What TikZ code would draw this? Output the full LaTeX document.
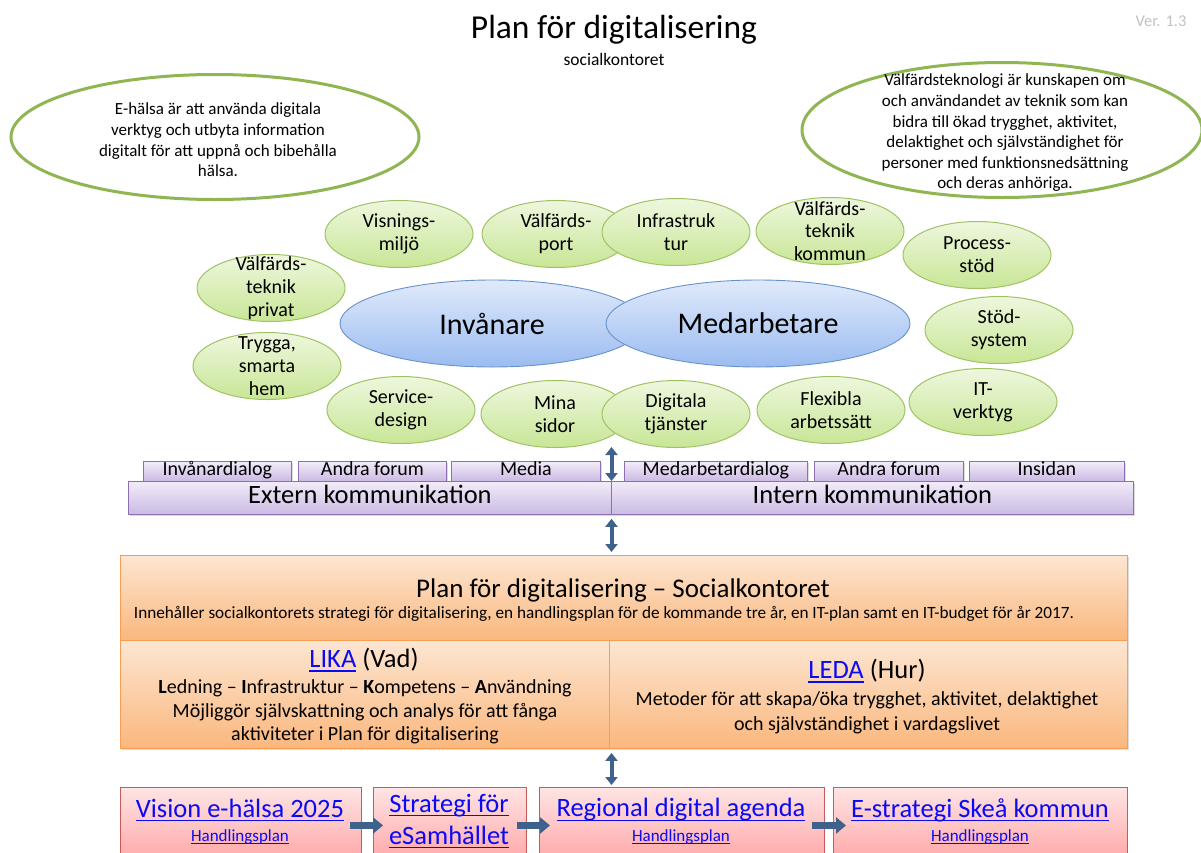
\documentclass[tikz,border=0pt]{standalone}
\usepackage{fontspec}
\setmainfont{Carlito}
\usetikzlibrary{shapes.geometric,arrows.meta,shadows}

\definecolor{ringline}{RGB}{143,182,82}
\definecolor{leafline}{RGB}{160,195,100}
\definecolor{leaftop}{RGB}{238,247,222}
\definecolor{leafbot}{RGB}{200,230,150}
\definecolor{skyline}{RGB}{105,145,205}
\definecolor{skytop}{RGB}{224,234,251}
\definecolor{skybot}{RGB}{155,188,240}
\definecolor{lilacline}{RGB}{140,112,175}
\definecolor{lilactop}{RGB}{242,236,249}
\definecolor{lilacbot}{RGB}{203,186,228}
\definecolor{peachline}{RGB}{247,158,85}
\definecolor{peachtop}{RGB}{253,230,210}
\definecolor{peachbot}{RGB}{250,183,125}
\definecolor{roseline}{RGB}{200,90,88}
\definecolor{rosetop}{RGB}{255,228,228}
\definecolor{rosebot}{RGB}{255,165,165}
\definecolor{steel}{RGB}{62,98,140}
\definecolor{linkblue}{RGB}{10,10,245}
\definecolor{vergray}{RGB}{195,195,195}

\newcommand\fs[2]{\fontsize{#1}{#2}\selectfont}
% underlined hyperlink-style text
\newcommand\weblink[2][1.2pt]{{\color{linkblue}\setbox0\hbox{#2}\rlap{\rule[-0.15em]{\wd0}{#1}}\box0}}
\newcommand\bubble[3]{%
  \node[bubble] (#1) at (#2) {};
  \node[bubbletext] (#1-t) at (#1) {#3};}

\begin{document}
\begin{tikzpicture}[x=1pt,y=-1pt,
  ring/.style={ellipse, draw=ringline, line width=3pt, fill=white, inner sep=0pt},
  ringtext/.style={align=center, inner sep=0pt, font=\fs{17}{20.6}},
  bubble/.style={ellipse, draw=leafline, line width=1pt, top color=leaftop,
    bottom color=leafbot, minimum width=148pt, minimum height=67pt, inner sep=0pt},
  bubbletext/.style={align=center, inner sep=0pt, font=\fs{20}{22.8}},
  core/.style={ellipse, draw=skyline, line width=0.9pt, top color=skytop,
    bottom color=skybot, minimum width=304pt, minimum height=87pt, inner sep=0pt},
  coretext/.style={inner sep=0pt, font=\fs{30}{34}},
  shade/.style={drop shadow={opacity=0.28, shadow xshift=1.5pt, shadow yshift=-2pt}},
  channel/.style={draw=lilacline, line width=0.8pt, top color=lilactop, bottom color=lilacbot,
    minimum height=19.5pt, inner sep=0pt, text height=12.5pt, text depth=3pt,
    font=\fs{20}{22}, anchor=north west, shade},
  bar/.style={draw=lilacline, line width=0.8pt, top color=lilactop, bottom color=lilacbot,
    minimum height=33pt, inner sep=0pt, text height=17pt, text depth=5pt,
    font=\fs{26.5}{30}, anchor=north west, shade},
  peach/.style={draw=peachline, line width=0.9pt, top color=peachtop, bottom color=peachbot,
    inner sep=0pt, anchor=north west, shade},
  rose/.style={draw=roseline, line width=0.9pt, top color=rosetop, bottom color=rosebot,
    minimum height=76pt, inner sep=0pt, anchor=north west},
  linkbig/.style={inner sep=0pt, font=\fs{26.5}{32}},
  linksmall/.style={inner sep=0pt, font=\fs{17}{19}},
  twoway/.style={draw=steel, line width=4pt,
    {Triangle[width=12pt,length=8pt]}-{Triangle[width=12pt,length=8pt]}},
  onward/.style={draw=steel, line width=7pt, -{Triangle[width=16pt,length=10pt]}}
]
\path[use as bounding box] (0,0) rectangle (1201,852);
\clip (0,0) rectangle (1201,852);
\fill[white] (0,0) rectangle (1201,852);

% heading
\node[font=\fs{33.5}{38}, inner sep=0pt] (title) at (614,30) {Plan för digitalisering};
\node[font=\fs{17.5}{19}, inner sep=0pt] (subtitle) at (614,59) {socialkontoret};
\node[font=\fs{16.5}{19}, text=vergray, inner sep=0pt] (version) at (1161,21) {Ver. 1.3};

% definitions in outlined ellipses
\node[ring, minimum width=408pt, minimum height=125pt] (ehealth) at (215,137) {};
\node[ringtext] (ehealth-t) at (218,140) {E-hälsa är att använda digitala\\verktyg och utbyta information\\digitalt för att uppnå och bibehålla\\hälsa.};
\node[ring, minimum width=400pt, minimum height=135pt] (welfare) at (1002,130) {};
\node[ringtext] (welfare-t) at (1005,133) {Välfärdsteknologi är kunskapen om\\och användandet av teknik som kan\\bidra till ökad trygghet, aktivitet,\\delaktighet och självständighet för\\personer med funktionsnedsättning\\och deras anhöriga.};

% the two target groups
\node[core] (citizen) at (492,323.5) {};
\node[coretext] (citizen-t) at (citizen) {Invånare};
\node[core] (staff) at (758,323.5) {};
\node[coretext] (staff-t) at (staff) {Medarbetare};

% surrounding topics
\bubble{display}{399,234}{Visnings-\\miljö}
\bubble{portal}{556,234}{Välfärds-\\port}
\bubble{infra}{676,232}{Infrastruk\\tur}
\bubble{techmun}{830,231}{Välfärds-\\teknik\\kommun}
\bubble{process}{977,255}{Process-\\stöd}
\bubble{techpriv}{271,288}{Välfärds-\\teknik\\privat}
\bubble{support}{999,330}{Stöd-\\system}
\bubble{home}{267,366}{Trygga,\\smarta\\hem}
\bubble{service}{401,410}{Service-\\design}
\bubble{mypages}{555,414}{Mina\\sidor}
\bubble{eservice}{676,414}{Digitala\\tjänster}
\bubble{flexible}{831,410}{Flexibla\\arbetssätt}
\bubble{ittools}{983,402}{IT-\\verktyg}

% communication channels
\node[channel, minimum width=148pt] (ch-dialog) at (143,461) {Invånardialog};
\node[channel, minimum width=148pt] (ch-forum1) at (298,461) {Andra forum};
\node[channel, minimum width=149pt] (ch-media) at (451,461) {Media};
\node[channel, minimum width=183pt] (ch-staff) at (624,461) {Medarbetardialog};
\node[channel, minimum width=149pt] (ch-forum2) at (814,461) {Andra forum};
\node[channel, minimum width=155pt] (ch-inside) at (969,461) {Insidan};
\node[bar, minimum width=483pt] (ext) at (128,481) {Extern kommunikation};
\node[bar, minimum width=522pt] (int) at (611,481) {Intern kommunikation};

% plan box
\node[peach, minimum width=1007pt, minimum height=85pt] (plantop) at (120,555) {};
\node[peach, minimum width=489pt, minimum height=108pt] (lika) at (120,640) {};
\node[peach, minimum width=518pt, minimum height=108pt] (leda) at (609,640) {};
\node[font=\fs{27}{30}, inner sep=0pt] (plan-title) at (623,590) {Plan för digitalisering – Socialkontoret};
\node[font=\fs{17.2}{19}, inner sep=0pt] (plan-note) at (604,614) {Innehåller socialkontorets strategi för digitalisering, en handlingsplan för de kommande tre år, en IT-plan samt en IT-budget för år 2017.};
\node[font=\fs{26.5}{30}, inner sep=0pt] (lika-head) at (364,660) {\weblink{LIKA} (Vad)};
\node[font=\fs{20}{23.5}, align=center, inner sep=0pt] (lika-body) at (365,712) {\textbf{L}edning – \textbf{I}nfrastruktur – \textbf{K}ompetens – \textbf{A}nvändning\\Möjliggör självskattning och analys för att fånga\\aktiviteter i Plan för digitalisering};
\node[font=\fs{26.5}{30}, inner sep=0pt] (leda-head) at (867,671) {\weblink{LEDA} (Hur)};
\node[font=\fs{20}{24.5}, align=center, inner sep=0pt] (leda-body) at (867,713) {Metoder för att skapa/öka trygghet, aktivitet, delaktighet\\och självständighet i vardagslivet};

% governing documents
\node[rose, minimum width=241pt] (vision) at (120,787) {};
\node[rose, minimum width=153pt] (strategy) at (373,787) {};
\node[rose, minimum width=285pt] (region) at (539,787) {};
\node[rose, minimum width=294pt] (skea) at (833,787) {};
\node[linkbig] (vision-t) at (240,810) {\weblink{Vision e-hälsa 2025}};
\node[linksmall] (vision-h) at (240,837) {\weblink[0.8pt]{Handlingsplan}};
\node[linkbig, align=center] (strategy-t) at (449,821) {\weblink{Strategi för}\\\weblink{eSamhället}};
\node[linkbig] (region-t) at (681,810) {\weblink{Regional digital agenda}};
\node[linksmall] (region-h) at (681,837) {\weblink[0.8pt]{Handlingsplan}};
\node[linkbig] (skea-t) at (980,810) {\weblink{E-strategi Skeå kommun}};
\node[linksmall] (skea-h) at (980,837) {\weblink[0.8pt]{Handlingsplan}};

% connectors
\coordinate (hub) at (611.5,447);
\draw[twoway] (hub) -- (hub |- ext.north);
\draw[twoway, shorten <=4pt, shorten >=3pt] (hub |- ext.south) -- (hub |- plantop.north);
\draw[twoway, shorten <=4pt, shorten >=2pt] (hub |- lika.south) -- (hub |- region.north);
\draw[onward] ([xshift=-12pt]vision.east) -- ([xshift=10pt]strategy.west);
\draw[onward] ([xshift=-10pt]strategy.east) -- ([xshift=11pt]region.west);
\draw[onward] ([xshift=-13pt]region.east) -- ([xshift=13pt]skea.west);
\end{tikzpicture}
\end{document}
